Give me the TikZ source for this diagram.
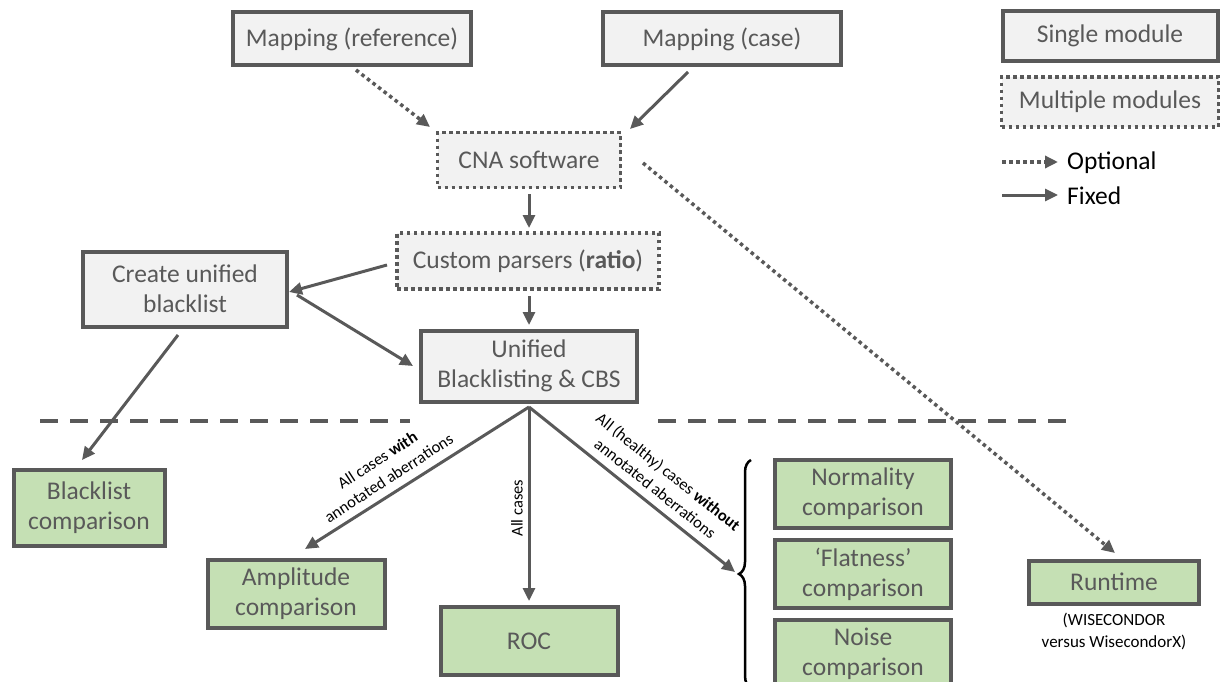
\documentclass[tikz,border=0pt]{standalone}
\usepackage{fontspec}
\setmainfont{Carlito}
\usetikzlibrary{arrows.meta,decorations.pathreplacing}
\definecolor{edge}{HTML}{595959}
\definecolor{boxfill}{HTML}{F2F2F2}
\definecolor{resfill}{HTML}{C5E0B4}
\tikzset{
  boxfont/.style={font=\fontsize{25.5}{30}\selectfont},
  single/.style={boxfont, draw=edge, line width=4pt, fill=boxfill, text=edge, align=center, inner sep=0pt},
  multi/.style={boxfont, draw=edge, line width=3.5pt, dash pattern=on 3.5pt off 3.5pt, fill=boxfill, text=edge, align=center, inner sep=0pt},
  result/.style={boxfont, draw=edge, line width=4pt, fill=resfill, text=edge, align=center, inner sep=0pt},
  fixed/.style={draw=edge, line width=3pt, -{Triangle[length=13pt,width=12pt]}},
  optional/.style={draw=edge, line width=3.5pt, dash pattern=on 3.5pt off 3.5pt, -{Triangle[length=13pt,width=12pt]}},
  sep/.style={draw=edge, line width=4pt, dash pattern=on 18pt off 12pt},
  lab/.style={font=\fontsize{16.5}{21}\selectfont, align=center, inner sep=0pt}
}
\begin{document}
\begin{tikzpicture}[x=1pt,y=-1pt]
\useasboundingbox (0,0) rectangle (1225,682);

% legend
\node[single, minimum width=215pt, minimum height=50pt] (lsingle) at (1110,36) {Single module};
\node[multi, minimum width=217pt, minimum height=50pt] (lmulti) at (1110,102) {Multiple modules};
\coordinate (lo1) at (1002,162);
\coordinate (lo2) at (1058,162);
\coordinate (lf1) at (1002,195);
\coordinate (lf2) at (1058,195);
\draw[optional] (lo1) -- (lo2);
\draw[fixed] (lf1) -- (lf2);
\node[boxfont, anchor=west, inner sep=0pt] (lotext) at (1067,163) {Optional};
\node[boxfont, anchor=west, inner sep=0pt] (lftext) at (1067,196) {Fixed};

% pipeline modules
\node[single, minimum width=238pt, minimum height=53pt] (mapref) at (352,39) {Mapping (reference)};
\node[single, minimum width=238pt, minimum height=53pt] (mapcase) at (722,39) {Mapping (case)};
\node[multi, minimum width=183pt, minimum height=55pt] (cna) at (529,160) {CNA software};
\node[multi, minimum width=262pt, minimum height=56pt] (parse) at (528,261) {Custom parsers (\textbf{ratio})};
\node[single, minimum width=204pt, minimum height=75pt] (blk) at (185,289) {Create unified\\blacklist};
\node[single, minimum width=216pt, minimum height=71pt] (cbs) at (529,366) {Unified\\Blacklisting \& CBS};

% separator
\coordinate (s1) at (40,421);
\coordinate (s2) at (410,421);
\coordinate (s3) at (658,421);
\coordinate (s4) at (1070,421);
\draw[sep] (s1) -- (s2);
\draw[sep] (s3) -- (s4);

% results
\node[result, minimum width=151pt, minimum height=76pt] (blcomp) at (89,508) {Blacklist\\comparison};
\node[result, minimum width=177pt, minimum height=68pt] (amp) at (296,594) {Amplitude\\comparison};
\node[result, minimum width=177pt, minimum height=68pt] (roc) at (529,641) {ROC};
\node[result, minimum width=176pt, minimum height=68pt] (norm) at (863,494) {Normality\\comparison};
\node[result, minimum width=176pt, minimum height=68pt] (flat) at (863,574) {‘Flatness’\\comparison};
\node[result, minimum width=176pt, minimum height=68pt] (noise) at (863,654) {Noise\\comparison};
\node[result, minimum width=170pt, minimum height=43pt] (run) at (1114,582) {Runtime};
\node[lab, font=\fontsize{17}{22}\selectfont] (runnote) at (1114,631) {(WISECONDOR\\versus WisecondorX)};

% brace over the three comparisons
\draw[line width=2.5pt, decorate, decoration={brace, amplitude=12pt, aspect=0.5}] (751,688) -- (751,460);
\coordinate (bracetip) at (735,572);

% connectors
\draw[optional] (356,70) -- (430,127);
\draw[fixed] (688,72) -- (630,129);
\draw[optional] (643,163) -- (1115,553);
\draw[fixed] (529,194) -- (529,228);
\draw[fixed] (387,265) -- (289,292);
\draw[fixed] (297,295) -- (413,366);
\draw[fixed] (529,296) -- (529,325);
\draw[fixed] (178,335) -- (82,460);
\coordinate (fan) at (529,407);
\draw[fixed] (fan) -- (305,549);
\draw[fixed] (fan) -- (529,601);
\draw[fixed] (fan) -- (bracetip);

% connector labels
\node[lab, rotate=33] (lwith) at (383,469) {All cases \textbf{with}\\annotated aberrations};
\node[lab, rotate=90] (lall) at (517,508) {All cases};
\node[lab, rotate=-38.5] (lwithout) at (662,480) {All (healthy) cases \textbf{without}\\annotated aberrations};
\end{tikzpicture}
\end{document}
